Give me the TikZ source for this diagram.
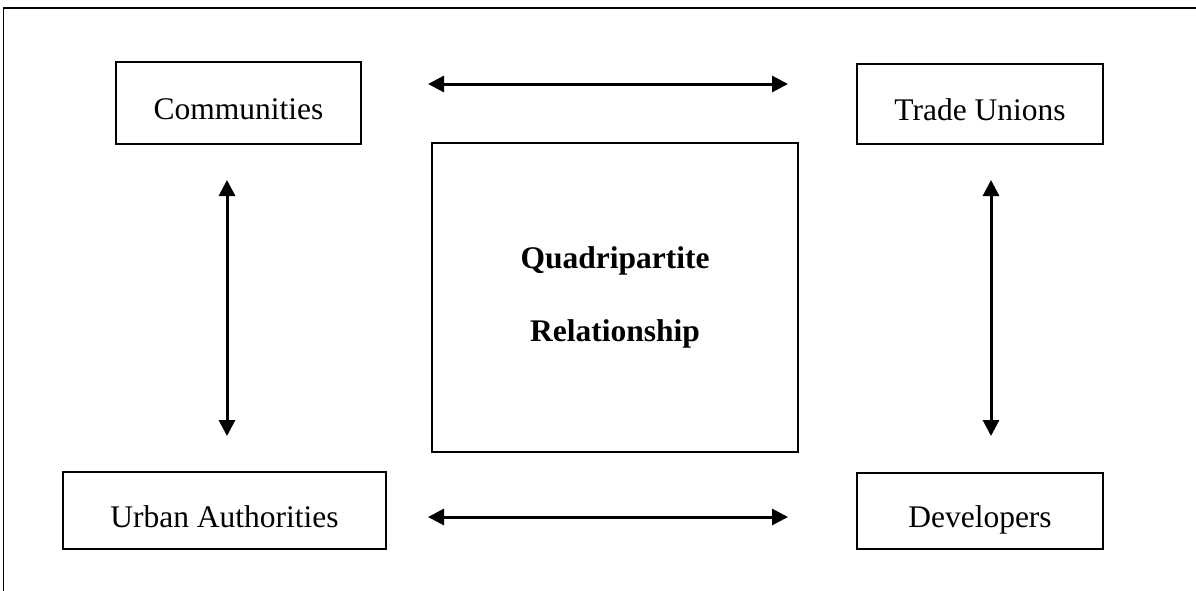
\documentclass[tikz,border=0pt]{standalone}
\usepackage{fontspec}
\setmainfont{Liberation Serif}
\usetikzlibrary{arrows.meta}
\begin{document}
\begin{tikzpicture}[x=1pt,y=-1pt,
  party/.style={draw, line width=1.3pt, inner sep=0pt, outer sep=0pt,
    text height=33pt, text depth=0pt, font=\fontsize{31.5}{38}\selectfont},
  hub/.style={draw, line width=1.3pt, inner sep=0pt, outer sep=0pt, align=center,
    font=\fontsize{31.5}{73}\selectfont\bfseries},
  link/.style={line width=3pt,
    {Triangle[length=16pt,width=16pt]}-{Triangle[length=16pt,width=16pt]}}]

\useasboundingbox (0,0) rectangle (1196,590);

% page frame
\begin{scope}
  \clip (0,0) rectangle (1196,590);
  \draw[line width=1.5pt] (3.5,600) -- (3.5,8) -- (1200,8);
\end{scope}

% the four parties and the shared relationship
\node[party, minimum width=245pt, minimum height=82pt] (comm)  at (238.5,103) {Communities};
\node[party, minimum width=246pt, minimum height=80pt] (trade) at (980,104)   {Trade Unions};
\node[party, minimum width=323pt, minimum height=77pt] (urban) at (224.5,510.5) {Urban Authorities};
\node[party, minimum width=246pt, minimum height=76pt] (dev)   at (980,511)   {Developers};
\node[hub, minimum width=366pt, minimum height=309pt]  (hub)   at (615,297.5) {Quadripartite\\Relationship};

% two-way links
\draw[link] ([xshift=67pt,yshift=19pt]comm.east) -- ([xshift=-69pt,yshift=20pt]trade.west);
\draw[link] ([xshift=42pt,yshift=-6.5pt]urban.east) -- ([xshift=-69pt,yshift=-6pt]dev.west);
\draw[link] ([xshift=-11.5pt,yshift=-36pt]comm.south) -- ([xshift=2.5pt,yshift=36pt]urban.north);
\draw[link] ([xshift=11pt,yshift=-36pt]trade.south) -- ([xshift=11pt,yshift=37pt]dev.north);
\end{tikzpicture}
\end{document}
